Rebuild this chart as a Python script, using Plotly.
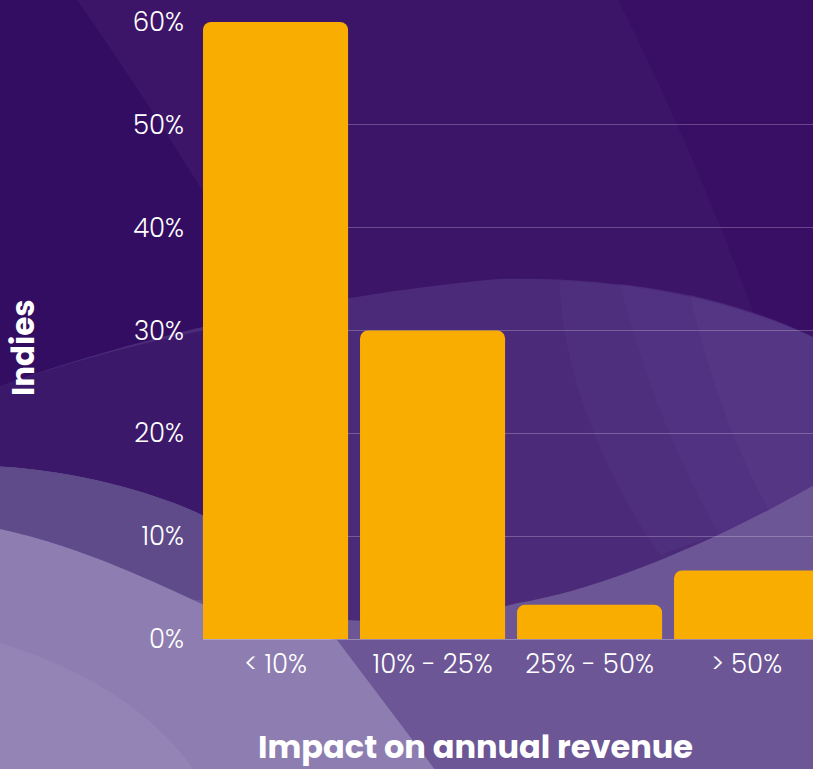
import plotly.graph_objects as go

categories = ["< 10%", "10% - 25%", "25% - 50%", "> 50%"]
shares = [60.0, 30.0, 3.33, 6.67]
y_ticks = [0, 10, 20, 30, 40, 50, 60]
y_tick_labels = ["0%", "10%", "20%", "30%", "40%", "50%", "60%"]

W, H = 813, 769
L, R, T, B = 203, 0, 22, 130
PW, PH = W - L - R, H - T - B


def px(x):
    return (x - L) / PW


def py(y):
    return (H - B - y) / PH


def path(cmds):
    out = []
    for c in cmds:
        op, pts = c[0], c[1:]
        s = op
        for (x, y) in pts:
            s += f" {px(x):.4f},{py(y):.4f}"
        out.append(s)
    return " ".join(out) + " Z"


bg_shapes = [
    # darker top-left wedge
    ("#330D61", 1.0, [("M", (-10, -10)), ("L", (77, -10)), ("L", (77, 0)), ("Q", (140, 90), (200, 187)),
                      ("L", (330, 420)), ("L", (-10, 470))]),
    # slightly darker top-right
    ("#390F66", 1.0, [("M", (613, -10)), ("Q", (690, 140), (760, 330)), ("L", (823, 330)), ("L", (823, -10))]),
    # middle band
    ("#4A2A79", 1.0, [("M", (-10, 390)), ("C", (150, 330), (350, 292), (498, 279)),
                      ("C", (650, 275), (760, 310), (823, 342)), ("L", (823, 779)), ("L", (-10, 779))]),
    # left subtle part of band
    ("#3B1869", 1.0, [("M", (-10, 390)), ("C", (100, 350), (200, 330), (260, 320)),
                      ("L", (260, 560)), ("L", (-10, 560))]),
    # right lighter streak of band (soft)
    ("#5A3D8C", 0.3, [("M", (560, 281)), ("C", (680, 285), (770, 318), (823, 342)),
                      ("L", (823, 500)), ("C", (760, 520), (700, 540), (660, 555)),
                      ("C", (600, 470), (560, 360), (560, 281))]),
    ("#5A3D8C", 0.3, [("M", (620, 284)), ("C", (720, 295), (780, 320), (823, 342)),
                      ("L", (823, 490)), ("C", (790, 505), (760, 520), (720, 535)),
                      ("C", (670, 450), (640, 360), (620, 284))]),
    ("#5E428E", 0.3, [("M", (690, 295)), ("C", (750, 310), (790, 325), (823, 342)),
                      ("L", (823, 485)), ("C", (800, 495), (785, 505), (770, 512)),
                      ("C", (730, 440), (705, 360), (690, 295))]),
    # lower region
    ("#6C5695", 1.0, [("M", (-10, 466)), ("C", (80, 470), (160, 495), (202, 515)),
                      ("C", (260, 550), (300, 600), (347, 620)),
                      ("C", (420, 625), (480, 612), (518, 603)),
                      ("C", (600, 590), (720, 540), (823, 480)),
                      ("L", (823, 779)), ("L", (-10, 779))]),
    # left part of lower region, slightly darker
    ("#5F4A8A", 1.0, [("M", (-10, 466)), ("C", (80, 470), (160, 495), (202, 515)),
                      ("L", (202, 600)), ("L", (-10, 600))]),
    # lightest bottom-left
    ("#8E7DB0", 1.0, [("M", (-10, 527)), ("C", (80, 545), (160, 585), (202, 604)),
                      ("C", (260, 625), (300, 635), (337, 640)),
                      ("L", (442, 779)), ("L", (-10, 779))]),
    ("#9A8ABA", 0.5, [("M", (-10, 640)), ("C", (60, 660), (150, 700), (200, 779)),
                      ("L", (-10, 779))]),
]

shapes = []
for color, op, cmds in bg_shapes:
    shapes.append(dict(type="path", xref="paper", yref="paper", path=path(cmds),
                       fillcolor=color, opacity=op, line=dict(width=0), layer="below"))

fig = go.Figure()
fig.add_trace(go.Bar(
    x=list(range(len(categories))), y=shares,
    marker=dict(color="#F9AD00", line=dict(width=0), cornerradius=8),
    hoverinfo="skip",
))

tick_font = dict(family="Poppins, Open Sans, Lato, sans-serif", size=26, color="white", weight=300)

fig.update_layout(
    width=W, height=H,
    margin=dict(l=L, r=R, t=T, b=B, pad=0),
    paper_bgcolor="#3C1468",
    plot_bgcolor="rgba(0,0,0,0)",
    bargap=0.076,
    showlegend=False,
    shapes=shapes,
    xaxis=dict(
        range=[-0.462, 3.423],
        tickmode="array", tickvals=list(range(len(categories))), ticktext=categories,
        tickfont=tick_font, showgrid=False, zeroline=False, showline=False,
        ticks="", ticklabelstandoff=7, fixedrange=True,
    ),
    yaxis=dict(
        range=[0, 60], tickmode="array", tickvals=y_ticks, ticktext=y_tick_labels,
        tickfont=tick_font, showgrid=True, gridcolor="rgba(255,255,255,0.24)", gridwidth=1,
        zeroline=True, zerolinecolor="rgba(255,255,255,0.3)", zerolinewidth=1,
        showline=False, ticks="", ticklabelstandoff=18, fixedrange=True,
    ),
    annotations=[
        dict(text="<b>Impact on annual revenue</b>", xref="paper", yref="paper",
             x=px(475), y=py(746), xanchor="center", yanchor="middle", showarrow=False,
             font=dict(family="Poppins, Open Sans, Lato, sans-serif", size=32, color="white")),
        dict(text="<b>Indies</b>", xref="paper", yref="paper",
             x=px(23), y=py(348), xanchor="center", yanchor="middle", showarrow=False,
             textangle=-90,
             font=dict(family="Poppins, Open Sans, Lato, sans-serif", size=31, color="white")),
    ],
)

fig.write_html("out.html", config={"displayModeBar": False},
               post_script="document.body.style.margin='0';")
